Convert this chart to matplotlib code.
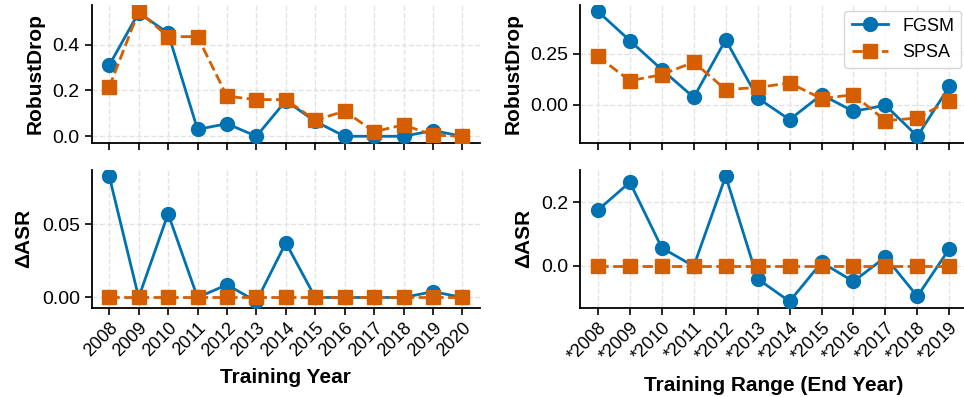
import matplotlib
matplotlib.use("Agg")
import matplotlib.pyplot as plt

plt.rcParams['font.family'] = ['Liberation Sans', 'DejaVu Sans']

# 单年训练
years = ['2008', '2009', '2010', '2011', '2012', '2013', '2014',
         '2015', '2016', '2017', '2018', '2019', '2020']
drop_fgsm_year = [0.31, 0.54, 0.45, 0.03, 0.055, 0.0, 0.155, 0.065, 0.0, 0.0, 0.0, 0.025, 0.0]
drop_spsa_year = [0.215, 0.545, 0.435, 0.435, 0.175, 0.16, 0.16, 0.07, 0.11, 0.02, 0.05, 0.005, 0.0]
asr_fgsm_year = [0.083, 0.0, 0.0573, 0.0, 0.0087, -0.0027, 0.0374, 0.0, 0.0, 0.0, 0.0, 0.004, 0.0]
asr_spsa_year = [0.0] * 13

# 累积区间训练
ranges = ['*2008', '*2009', '*2010', '*2011', '*2012', '*2013',
          '*2014', '*2015', '*2016', '*2017', '*2018', '*2019']
drop_fgsm_range = [0.46, 0.316, 0.173, 0.036, 0.32, 0.033, -0.074, 0.049, -0.033, -0.003, -0.156, 0.09]
drop_spsa_range = [0.238, 0.118, 0.148, 0.21, 0.074, 0.085, 0.107, 0.03, 0.049, -0.079, -0.066, 0.02]
asr_fgsm_range = [0.175, 0.263, 0.056, -0.002, 0.282, -0.042, -0.113, 0.01, -0.05, 0.027, -0.097, 0.053]
asr_spsa_range = [0.0] * 12

c_fgsm = '#0072B2'
c_spsa = '#D55E00'

fig = plt.figure(figsize=(9.64, 3.97), dpi=100)
ax_tl = fig.add_axes([0.095, 0.641, 0.403, 0.346])
ax_bl = fig.add_axes([0.095, 0.225, 0.403, 0.347], sharex=ax_tl)
ax_tr = fig.add_axes([0.602, 0.641, 0.401, 0.346])
ax_br = fig.add_axes([0.602, 0.225, 0.401, 0.347], sharex=ax_tr)


def draw(ax, labels, fgsm, spsa, ylabel):
    x = list(range(len(labels)))
    ax.plot(x, fgsm, '-o', color=c_fgsm, lw=2, ms=10, label='FGSM', zorder=3)
    ax.plot(x, spsa, '--s', color=c_spsa, lw=2, ms=10, label='SPSA', zorder=3)
    ax.set_ylabel(ylabel, fontsize=15, fontweight='bold', labelpad=6)
    ax.grid(True, ls='--', color='#e3e3e3', lw=1.0)
    ax.set_axisbelow(True)
    for s in ['top', 'right']:
        ax.spines[s].set_visible(False)
    for s in ['left', 'bottom']:
        ax.spines[s].set_linewidth(1.3)
    ax.tick_params(labelsize=14, length=5, width=1.2)
    ax.set_xticks(x)


draw(ax_tl, years, drop_fgsm_year, drop_spsa_year, 'RobustDrop')
draw(ax_bl, years, asr_fgsm_year, asr_spsa_year, 'ΔASR')
draw(ax_tr, ranges, drop_fgsm_range, drop_spsa_range, 'RobustDrop')
draw(ax_br, ranges, asr_fgsm_range, asr_spsa_range, 'ΔASR')

ax_tl.set_yticks([0.0, 0.2, 0.4])
ax_bl.set_yticks([0.0, 0.05])
ax_tr.set_yticks([0.0, 0.25])
ax_br.set_yticks([0.0, 0.2])

ax_tl.tick_params(labelbottom=False)
ax_tr.tick_params(labelbottom=False)

ax_bl.set_xticklabels(years, rotation=45, ha='right', rotation_mode='anchor', fontsize=13)
ax_br.set_xticklabels(ranges, rotation=45, ha='right', rotation_mode='anchor', fontsize=13)
ax_bl.set_xlabel('Training Year', fontsize=15, fontweight='bold', labelpad=6)
ax_br.set_xlabel('Training Range (End Year)', fontsize=15, fontweight='bold', labelpad=8)

ax_tr.legend(loc='upper right', fontsize=13, frameon=True, edgecolor='#cccccc',
             borderaxespad=0.3)

fig.savefig('out.png', dpi=100)
